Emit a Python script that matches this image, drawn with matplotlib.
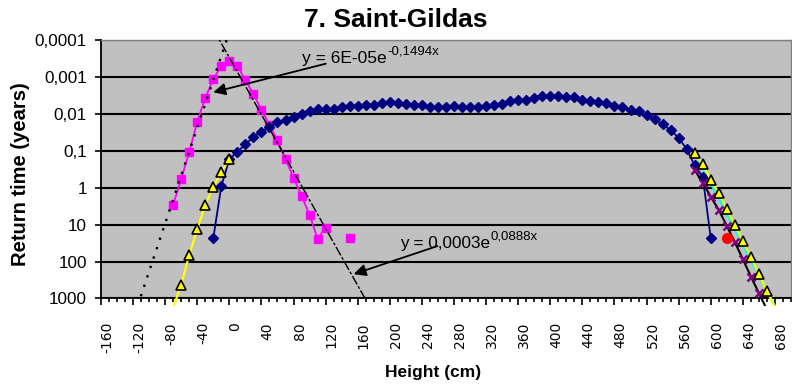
import numpy as np
import matplotlib.pyplot as plt
from matplotlib.ticker import MultipleLocator, FixedLocator, FixedFormatter, NullLocator
from matplotlib.transforms import ScaledTranslation, Bbox, TransformedBbox

plt.rcParams['font.family'] = ['Liberation Sans', 'DejaVu Sans']
plt.rcParams['axes.unicode_minus'] = False

# observed return times (years) against height (cm)
pink_x = [-70, -60, -50, -40, -30, -20, -10, 0, 10, 20, 30, 40, 50, 60, 70, 80, 90,
          100, 110, 120, 130, 140, 150]
pink_y = [2.9, 0.58, 0.108, 0.0162, 0.0037, 0.00115, 0.0005, 0.00038, 0.0005, 0.00123,
          0.0029, 0.0078, 0.02, 0.052, 0.166, 0.54, 1.66, 5.5, 24, 12, np.nan, np.nan, 23]

blue_x = list(range(-20, 610, 10))
blue_y = [23, 0.9, 0.17, 0.106, 0.067, 0.042, 0.031, 0.0225, 0.017, 0.0148,
          0.0125, 0.0098, 0.0085, 0.0075, 0.0075, 0.0072, 0.0065, 0.0061, 0.0062, 0.0058,
          0.0058, 0.0052, 0.0047, 0.0052, 0.0055, 0.0056, 0.0058, 0.0065, 0.0067, 0.0065,
          0.0062, 0.0065, 0.0067, 0.0065, 0.0061, 0.0058, 0.0055, 0.0045, 0.0043, 0.0041,
          0.0037, 0.0033, 0.0033, 0.0033, 0.0035, 0.0036, 0.0041, 0.0044, 0.0049, 0.0052,
          0.0062, 0.0067, 0.0079, 0.0085, 0.0108, 0.0139, 0.0193, 0.0276, 0.0445, 0.09,
          0.25, 0.5, 23]

yel_left_x = [-70, -60, -50, -40, -30, -20, -10, 0]
yel_left_y = [1800, 426, 66, 13.3, 2.94, 0.975, 0.37, 0.17]
yel_right_x = [580, 590, 600, 610, 620, 630, 640, 650, 660, 670, 680]
yel_right_y = [0.117, 0.233, 0.62, 1.36, 3.8, 10.4, 28.4, 73, 219, 619, 1750]

cyan_x = [583, 679]
cyan_y = [0.145, 1480]

purple_x = [580, 590, 600, 610, 620, 630, 640, 650, 660, 670]
purple_y = [0.333, 0.73, 1.75, 4.0, 10.8, 29.9, 86, 254, 714, 2000]

red_x = [620]
red_y = [23.5]

# exponential trendlines  y = a*exp(b*x)
trend_left = (6e-05, -0.1494)
trend_right = (0.0003, 0.0888)

y_ticks = [0.0001, 0.001, 0.01, 0.1, 1, 10, 100, 1000]
y_labels = ['0,0001', '0,001', '0,01', '0,1', '1', '10', '100', '1000']

fig = plt.figure(figsize=(7.92, 3.88), dpi=100)
ax = fig.add_axes([0.1275, 0.2307, 0.8712, 0.6662])
ax.set_facecolor('#c0c0c0')

ax.set_yscale('log')
ax.set_xlim(-160, 700)
ax.set_ylim(1000, 0.0001)

# clip box a little below the plot area, the series lines run past the axis
ext_clip = TransformedBbox(Bbox([[0, -0.03], [1, 1]]), ax.transAxes)

def long_line(x, y, **kw):
    ln, = ax.plot(x, y, **kw)
    ln.set_clip_path(None)
    ln.set_clip_box(ext_clip)
    return ln

# pink series
ax.plot(pink_x, pink_y, color='#ff00ff', lw=1.3, marker='s', ms=5.8, mec='#ff00ff', zorder=3)

# blue series
ax.plot(blue_x, blue_y, color='#000080', lw=1.3, marker='D', ms=4.8, mec='#000080', zorder=4)

# yellow series (line then markers)
for xs, ys in [(yel_left_x, yel_left_y), (yel_right_x, yel_right_y)]:
    long_line(xs, ys, color='#ffff00', lw=1.6, zorder=4)

# cyan
long_line(cyan_x, cyan_y, color='#00ffff', lw=1.8, zorder=3.9)

# purple crosses with black line
long_line(purple_x, purple_y, color='black', lw=1.5, zorder=4.2)
ax.plot(purple_x, purple_y, ls='none', marker='x', ms=5.5, mew=1.8, color='#800080', zorder=4.3)

for xs, ys in [(yel_left_x, yel_left_y), (yel_right_x, yel_right_y)]:
    ax.plot(xs, ys, ls='none', marker='^', ms=6.5, mfc='#ffff00', mec='black', mew=1.2, zorder=5)

ax.plot(red_x, red_y, ls='none', marker='o', ms=7, color='#ff0000', zorder=5)

# trendlines
xl = np.linspace(-130, 10, 200)
ax.plot(xl, trend_left[0] * np.exp(trend_left[1] * xl), color='black', lw=1.7,
        ls=(0, (1, 3.2)), zorder=6)
xr = np.linspace(-20, 180, 200)
ax.plot(xr, trend_right[0] * np.exp(trend_right[1] * xr), color='black', lw=1.0,
        ls=(0, (7, 1.5, 2, 1.5)), zorder=6)

# equations with arrows
eq1 = ax.annotate('y = 6E-05e', xy=(-20, 0.0026), xytext=(91, 4.3e-4), fontsize=12.5,
                  va='baseline', ha='left',
                  arrowprops=dict(arrowstyle='-|>', color='black', lw=1.3, mutation_scale=18,
                                  shrinkA=14, shrinkB=0, patchA=None), zorder=7)
ax.annotate('-0,1494x', xy=(1, 0.92), xycoords=eq1, va='baseline', ha='left', fontsize=9.5,
            zorder=7)
eq2 = ax.annotate('y = 0,0003e', xy=(155, 219), xytext=(213, 42.7), fontsize=12.3,
                  va='baseline', ha='left',
                  arrowprops=dict(arrowstyle='-|>', color='black', lw=1.3, mutation_scale=18,
                                  shrinkA=6, shrinkB=0, patchA=None), zorder=7)
ax.annotate('0,0888x', xy=(1, 0.92), xycoords=eq2, va='baseline', ha='left', fontsize=9.5,
            zorder=7)

# axes styling
ax.xaxis.set_major_locator(MultipleLocator(40))
ax.xaxis.set_minor_locator(MultipleLocator(10))
ax.yaxis.set_major_locator(FixedLocator(y_ticks))
ax.yaxis.set_major_formatter(FixedFormatter(y_labels))
ax.yaxis.set_minor_locator(NullLocator())
ax.tick_params(axis='x', which='major', length=5, width=1.2, direction='out', pad=12,
               labelsize=10, labelrotation=90)
ax.tick_params(axis='x', which='minor', length=3, width=1.2, direction='out')
ax.tick_params(axis='y', which='major', length=4, width=1.2, direction='out', pad=6,
               labelsize=12.3)
for lbl in ax.get_xticklabels():
    lbl.set_family('DejaVu Sans')
    lbl.set_transform(lbl.get_transform() + ScaledTranslation(0.06, 0, fig.dpi_scale_trans))

ax.yaxis.grid(True, color='black', lw=1.5)
for t in ax.yaxis.get_major_ticks():
    if t.get_loc() == 0.0001:
        t.gridline.set_visible(False)
ax.set_axisbelow(True)

for s in ['left', 'bottom']:
    ax.spines[s].set_color('black')
    ax.spines[s].set_linewidth(1.3)
for s in ['top', 'right']:
    ax.spines[s].set_color('#808080')
    ax.spines[s].set_linewidth(1.0)

fig.text(0.5, 1 - 20 / 388, '7. Saint-Gildas', ha='center', va='center', fontsize=19,
         fontweight='bold')
fig.text(21 / 792, 1 - 174 / 388, 'Return time (years)', rotation=90, ha='center',
         va='center', fontsize=14.5, fontweight='bold')
fig.text(433 / 792, 1 - 373 / 388, 'Height (cm)', ha='center', va='center', fontsize=12.5,
         fontweight='bold')

fig.savefig('out.png', dpi=100)
